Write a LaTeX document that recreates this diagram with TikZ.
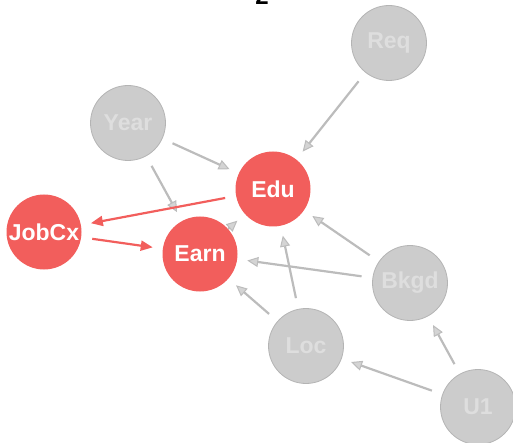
\documentclass[tikz,border=0pt]{standalone}
\usepackage{fontspec}
\setmainfont{Liberation Sans}
\usetikzlibrary{arrows.meta}
\pgfdeclarelayer{background}
\pgfsetlayers{background,main}
\definecolor{hotred}{RGB}{242,94,92}
\definecolor{mutefill}{RGB}{204,204,204}
\definecolor{muteline}{RGB}{180,180,180}
\definecolor{mutetext}{RGB}{222,222,222}
\definecolor{edgegray}{RGB}{188,188,188}
\tikzset{
  vnode/.style={circle, minimum size=75pt, inner sep=0pt, font=\bfseries\fontsize{23}{26}\selectfont},
  hot/.style={vnode, fill=hotred, text=white},
  muted/.style={vnode, fill=mutefill, draw=muteline, line width=0.8pt, text=mutetext},
  grayedge/.style={draw=edgegray, line width=2.2pt, shorten <=11pt, shorten >=10pt,
    -{Triangle[length=11pt,width=10pt,fill=mutefill!85!white,line width=1pt]}},
  rededge/.style={draw=hotred, line width=2.2pt, shorten <=11pt, shorten >=10pt,
    -{Triangle[length=12pt,width=10pt]}}
}
\begin{document}
\begin{tikzpicture}[x=1pt,y=-1pt]
  \useasboundingbox (0,0) rectangle (513,443);
  \clip (0,0) rectangle (513,443);
  % heading, mostly above the top edge
  \node[anchor=base, font=\bfseries\fontsize{24}{28}\selectfont] (title) at (262,5) {2};
  % variables
  \node[muted] (req)   at (389,43)  {Req};
  \node[muted] (year)  at (128,123) {Year};
  \node[hot]   (edu)   at (273,189) {Edu};
  \node[hot]   (jobcx) at (44,232)  {JobCx};
  \node[hot]   (earn)  at (200,254) {Earn};
  \node[muted] (bkgd)  at (410,283) {Bkgd};
  \node[muted] (loc)   at (306,346) {Loc};
  \node[muted] (u1)    at (478,407) {U1};
  % dependencies
  \begin{pgfonlayer}{background}
    \draw[grayedge] (req) -- (edu);
    \draw[grayedge] (year) -- (edu);
    \draw[grayedge] (year) -- (earn);
    \draw[grayedge, shorten <=0pt] (earn) -- (edu);
    \draw[grayedge] (bkgd) -- (edu);
    \draw[grayedge] (bkgd) -- (earn);
    \draw[grayedge] (loc) -- (earn);
    \draw[grayedge] (loc) -- (edu);
    \draw[grayedge] (u1) -- (loc);
    \draw[grayedge] (u1) -- (bkgd);
    \draw[rededge] (edu) -- (jobcx);
    \draw[rededge] (jobcx) -- (earn);
  \end{pgfonlayer}
\end{tikzpicture}
\end{document}
